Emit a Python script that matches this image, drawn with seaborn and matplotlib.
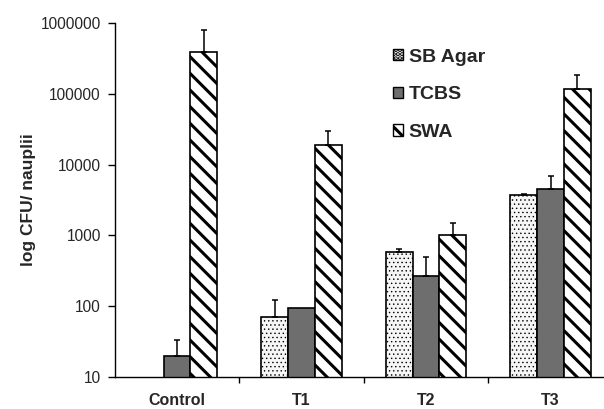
import matplotlib
matplotlib.use("Agg")
import matplotlib.pyplot as plt
import seaborn as sns
import pandas as pd
import numpy as np
from matplotlib.patches import Patch
from matplotlib.ticker import FixedLocator, NullLocator, FuncFormatter

categories = ["Control", "T1", "T2", "T3"]
series = ["SB Agar", "TCBS", "SWA"]
sb_agar = [np.nan, 70, 590, 3700]
sb_agar_err = [np.nan, 51, 50, 100]
tcbs = [20, 93, 264, 4450]
tcbs_err = [13, 0, 226, 2500]
swa = [390000, 19000, 1025, 115000]
swa_err = [400000, 11000, 465, 67000]

values = {"SB Agar": sb_agar, "TCBS": tcbs, "SWA": swa}
errors = {"SB Agar": sb_agar_err, "TCBS": tcbs_err, "SWA": swa_err}

rows = []
for s in series:
    for c, v, e in zip(categories, values[s], errors[s]):
        if not np.isnan(v):
            rows.append({"Group": c, "Medium": s, "CFU": v, "err": e})
df = pd.DataFrame(rows)

sns.set_style("white")
plt.rcParams['font.family'] = ['Liberation Sans', 'DejaVu Sans']
plt.rcParams['hatch.linewidth'] = 2.2
plt.rcParams['hatch.color'] = 'black'

fig = plt.figure(figsize=(6.04, 4.09), dpi=100)
ax = fig.add_axes([0.190, 0.078, 0.8245, 0.866])

sns.barplot(data=df, x="Group", y="CFU", hue="Medium", order=categories,
            hue_order=series, errorbar=None, width=0.65, ax=ax,
            edgecolor="black", linewidth=1.2, legend=False, log_scale=(False, True))

styles = {
    "SB Agar": dict(facecolor="#f6f6f6", hatch="....", hlw=0.5),
    "TCBS": dict(facecolor="#6e6e6e", hatch=None, hlw=1.0),
    "SWA": dict(facecolor="white", hatch="\\\\", hlw=2.2),
}

for cont, s in zip(ax.containers, series):
    sub = df[df["Medium"] == s]
    st = styles[s]
    for bar in cont:
        bar.set_facecolor(st["facecolor"])
        if st["hatch"]:
            bar.set_hatch(st["hatch"])
            if hasattr(bar, "set_hatch_linewidth"):
                bar.set_hatch_linewidth(st["hlw"])
        h = bar.get_height()
        xc = bar.get_x() + bar.get_width() / 2
        if not np.isfinite(h) or h <= 0:
            continue
        match = sub[np.isclose(sub["CFU"], h)]
        if len(match) and match["err"].iloc[0] > 0:
            e = match["err"].iloc[0]
            ax.errorbar(xc, h, yerr=[[0], [e]], fmt="none", ecolor="black",
                        elinewidth=1.1, capsize=2.5, capthick=1.1, zorder=1)

ax.set_yscale("log")
ax.set_ylim(10, 1e6)
ax.set_xlim(-0.5, 3.5)
ax.yaxis.set_major_locator(FixedLocator([10, 100, 1000, 10000, 100000, 1000000]))
ax.yaxis.set_minor_locator(NullLocator())
ax.yaxis.set_major_formatter(FuncFormatter(lambda v, p: f"{int(round(v))}"))
ax.xaxis.set_minor_locator(FixedLocator([0.5, 1.5, 2.5]))

for sp in ["top", "right"]:
    ax.spines[sp].set_visible(False)
for sp in ["left", "bottom"]:
    ax.spines[sp].set_color("black")
    ax.spines[sp].set_linewidth(1.0)

ax.tick_params(axis="y", which="major", direction="out", length=5, width=1,
               color="black", labelsize=11.2, pad=5, left=True)
ax.tick_params(axis="x", which="major", length=0, labelsize=11.5, pad=11.5)
ax.tick_params(axis="x", which="minor", direction="out", length=4, width=1,
               color="black", bottom=True)
for lab in ax.get_xticklabels():
    lab.set_fontweight("bold")

ax.set_xlabel("")
ax.set_ylabel("log CFU/ nauplii", fontsize=12.5, fontweight="bold", labelpad=3)

handles = []
for s in series:
    p = Patch(facecolor=styles[s]["facecolor"], hatch=styles[s]["hatch"],
              edgecolor="black", linewidth=1.0, label=s)
    if styles[s]["hatch"] and hasattr(p, "set_hatch_linewidth"):
        p.set_hatch_linewidth(1.0 if s == "SWA" else 0.5)
    handles.append(p)
leg = ax.legend(handles=handles, loc="upper left", bbox_to_anchor=(0.6507, 0.881),
                bbox_transform=fig.transFigure, frameon=False,
                borderpad=0, borderaxespad=0,
                handlelength=0.5, handleheight=0.5, handletextpad=0.3,
                labelspacing=1.06, prop={"weight": "bold", "size": 14})

fig.savefig("out.png", dpi=100)
